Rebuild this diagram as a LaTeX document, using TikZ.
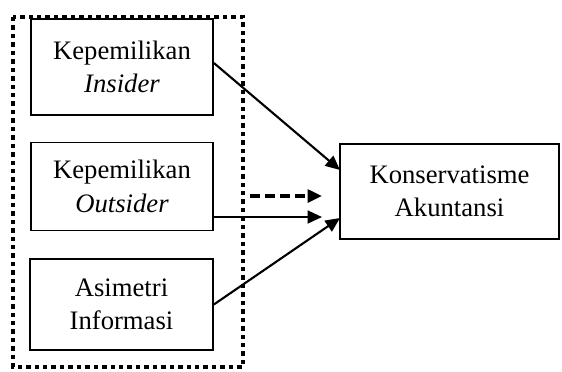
\documentclass[tikz,border=0pt]{standalone}
\usepackage{fontspec}
\setmainfont{Liberation Serif}
\usetikzlibrary{arrows.meta}
\tikzset{
  varbox/.style={draw, line width=0.8pt, align=center, font=\fontsize{12}{15}\selectfont, inner sep=0pt},
  link/.style={line width=0.95pt, -{Triangle[length=6.5pt,width=5.8pt]}},
}
\begin{document}
\begin{tikzpicture}[x=0.45pt,y=-0.45pt]
        \useasboundingbox (0,0) rectangle (562,371);

        % variabel independen
        \node[varbox, minimum width=81.9pt, minimum height=43.2pt] (insider) at (122,67) {Kepemilikan\\\textit{Insider}};
        \node[varbox, minimum width=81.9pt, minimum height=39.6pt] (outsider) at (122,186.5) {Kepemilikan\\\textit{Outsider}};
        \node[varbox, minimum width=82.3pt, minimum height=41pt] (asimetri) at (121.5,304.5) {Asimetri\\Informasi};

        % variabel dependen
        \node[varbox, minimum width=98.5pt, minimum height=42.7pt] (konservatisme) at (449.5,191.5) {Konservatisme\\Akuntansi};

        % titik ujung panah
        \coordinate (kin) at (340,170);
        \coordinate (kout) at (322,217);
        \coordinate (kasi) at (340,218);
        \coordinate (dashstart) at (250,196);
        \coordinate (dashend) at (322,196);

        % garis bertitik (moderasi)
        \draw[line width=2pt, dash pattern=on 2pt off 1.8pt] (13,17) rectangle (243,367);

        % hubungan
        \draw[link] (insider.east) ++(0,-4) -- (kin);
        \draw[link] (outsider.east |- kout) -- (kout);
        \draw[link] (asimetri.east) -- (kasi);
        \draw[link, line width=1.5pt, dash pattern=on 4.5pt off 2.3pt] (dashstart) -- (dashend);
\end{tikzpicture}
\end{document}
